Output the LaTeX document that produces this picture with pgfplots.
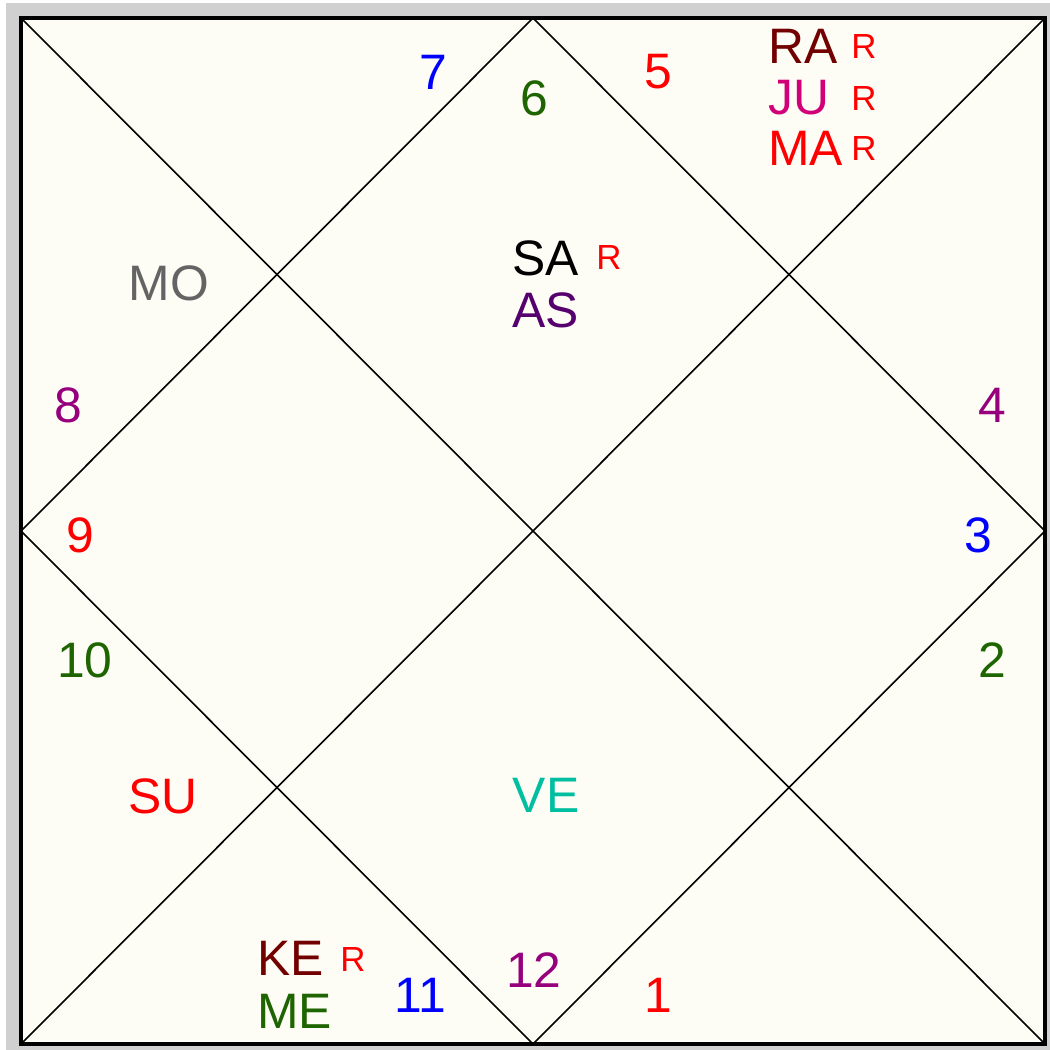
\documentclass[border=0pt]{standalone}
\usepackage{pgfplots}
\pgfplotsset{compat=1.18}
\usepackage{fontspec}
\setmainfont{Liberation Sans}
\definecolor{bggray}{RGB}{208,208,208}
\definecolor{cream}{RGB}{253,253,246}
\definecolor{dgreen}{RGB}{30,100,0}
\definecolor{purp}{RGB}{150,0,125}
\definecolor{maroon}{RGB}{115,0,0}
\definecolor{jupink}{RGB}{210,0,120}
\definecolor{indigo}{RGB}{85,0,110}
\definecolor{mogray}{RGB}{100,100,100}
\definecolor{teal}{RGB}{0,190,160}
\newcommand{\bigf}{\fontsize{50}{58}\selectfont}
\newcommand{\smf}{\fontsize{35}{40}\selectfont}
\begin{document}
\begin{tikzpicture}
\begin{axis}[scale only axis, width=1050bp, height=1050bp,
  xmin=0, xmax=1050, ymin=0, ymax=1050, y dir=reverse,
  hide axis, clip=false]
\addplot[fill=white, draw=none] coordinates {(0,0) (1050,0) (1050,1050) (0,1050)} -- cycle;
\addplot[fill=bggray, draw=none] coordinates {(6,3) (1050,3) (1050,1050) (6,1050)} -- cycle;
\addplot[fill=cream, draw=black, line width=4bp] coordinates {(21,18) (1045,18) (1045,1044) (21,1044)} -- cycle;
\addplot[black, line width=1.6bp] coordinates {(21,18) (1045,1044)};
\addplot[black, line width=1.6bp] coordinates {(1045,18) (21,1044)};
\addplot[black, line width=1.6bp] coordinates {(533,18) (1045,531) (533,1044) (21,531)} -- cycle;
% house numbers
\node[font=\bigf, text=blue] at (axis cs:433,72) {7};
\node[font=\bigf, text=dgreen] at (axis cs:534,98) {6};
\node[font=\bigf, text=red] at (axis cs:658,72) {5};
\node[font=\bigf, text=purp] at (axis cs:992,405) {4};
\node[font=\bigf, text=blue] at (axis cs:978,535) {3};
\node[font=\bigf, text=dgreen] at (axis cs:992,660) {2};
\node[font=\bigf, text=red] at (axis cs:658,995) {1};
\node[font=\bigf, text=purp] at (axis cs:534,970) {12};
\node[font=\bigf, text=blue] at (axis cs:420,995) {11};
\node[font=\bigf, text=dgreen] at (axis cs:85,660) {10};
\node[font=\bigf, text=red] at (axis cs:80,535) {9};
\node[font=\bigf, text=purp] at (axis cs:68,405) {8};
% planets
\node[font=\bigf, text=maroon, anchor=west, inner sep=0pt] at (axis cs:768,46) {RA};
\node[font=\smf, text=red] at (axis cs:864,47) {R};
\node[font=\bigf, text=jupink, anchor=west, inner sep=0pt] at (axis cs:768,98) {JU};
\node[font=\smf, text=red] at (axis cs:864,99) {R};
\node[font=\bigf, text=red, anchor=west, inner sep=0pt] at (axis cs:768,148) {MA};
\node[font=\smf, text=red] at (axis cs:864,149) {R};
\node[font=\bigf, text=mogray] at (axis cs:169,283) {MO};
\node[font=\bigf, text=black, anchor=west, inner sep=0pt] at (axis cs:512,258) {SA};
\node[font=\smf, text=red] at (axis cs:609,258) {R};
\node[font=\bigf, text=indigo, anchor=west, inner sep=0pt] at (axis cs:512,310) {AS};
\node[font=\bigf, text=red] at (axis cs:163,796) {SU};
\node[font=\bigf, text=teal] at (axis cs:546,795) {VE};
\node[font=\bigf, text=maroon, anchor=west, inner sep=0pt] at (axis cs:257,958) {KE};
\node[font=\smf, text=red] at (axis cs:353,959) {R};
\node[font=\bigf, text=dgreen, anchor=west, inner sep=0pt] at (axis cs:257,1011) {ME};
\end{axis}
\end{tikzpicture}
\end{document}
